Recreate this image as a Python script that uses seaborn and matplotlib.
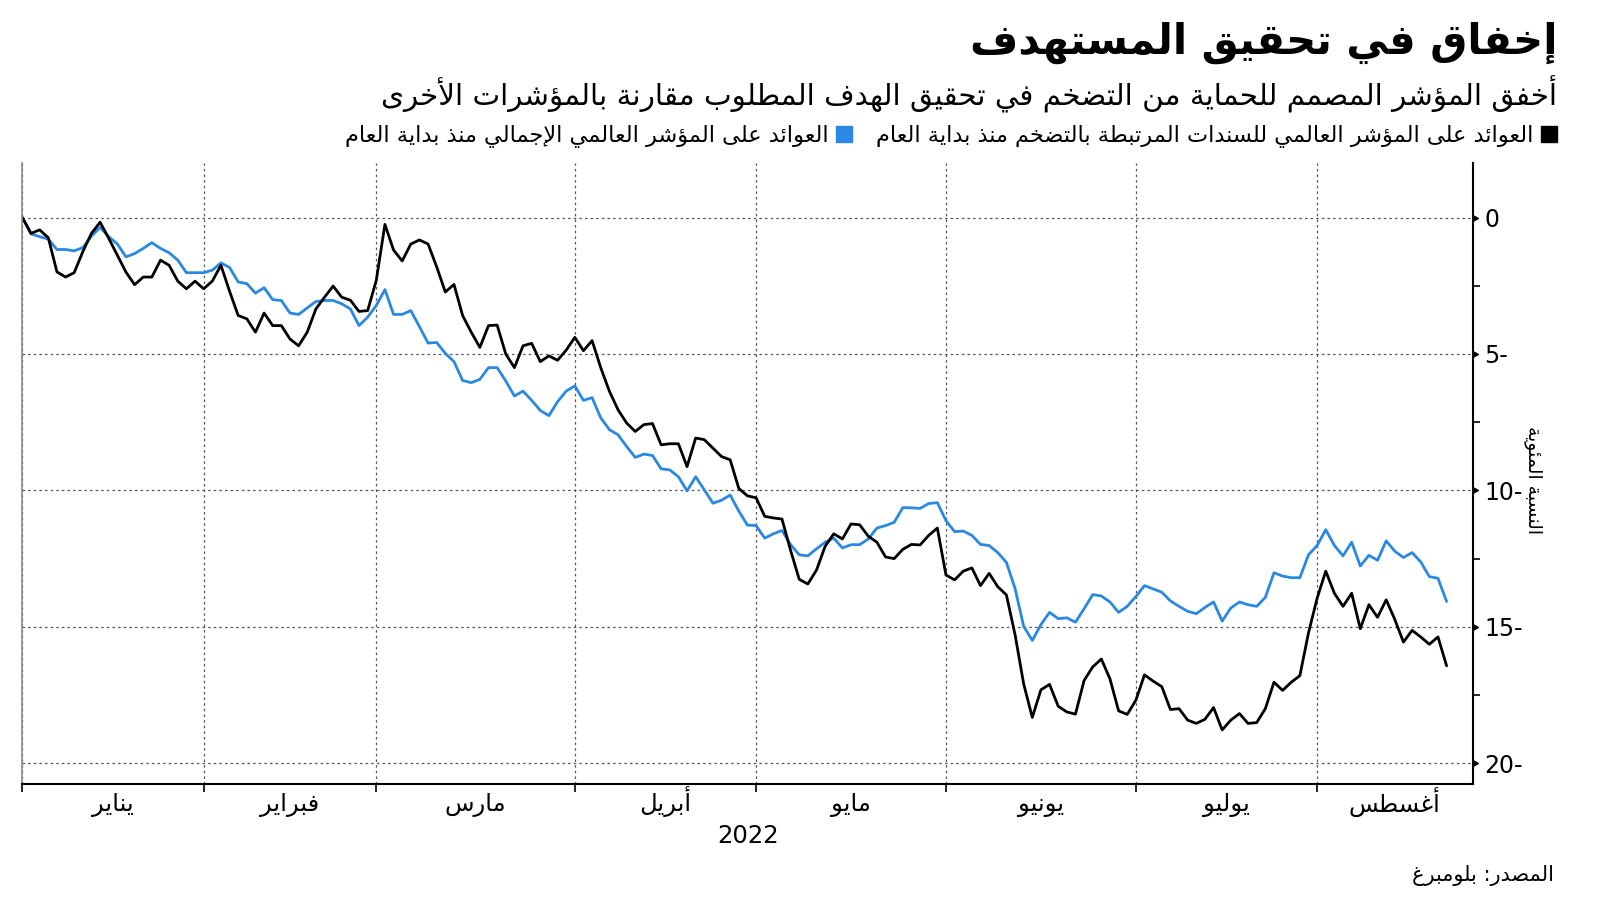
import numpy as np
import pandas as pd
import matplotlib
matplotlib.use("Agg")
import matplotlib.pyplot as plt
from matplotlib.lines import Line2D
import seaborn as sns

# ---------------- data ----------------
title_txt = "إخفاق في تحقيق المستهدف"
subtitle_txt = "أخفق المؤشر المصمم للحماية من التضخم في تحقيق الهدف المطلوب مقارنة بالمؤشرات الأخرى"
series_linked = "العوائد على المؤشر العالمي للسندات المرتبطة بالتضخم منذ بداية العام"
series_agg = "العوائد على المؤشر العالمي الإجمالي منذ بداية العام"
source_txt = "المصدر: بلومبرغ"
ylabel_txt = "النسبة المئوية"
year_txt = "2022"
months = ["يناير", "فبراير", "مارس", "أبريل", "مايو", "يونيو", "يوليو", "أغسطس"]
month_start_idx = [0, 21, 41, 64, 85, 107, 129, 150]   # business-day index of first trading day
ytick_vals = [0, -5, -10, -15, -20]
ytick_labels = ["0", "5-", "10-", "15-", "20-"]

linked = [0, -0.58, -0.45, -0.74, -1.99, -2.18, -2.02, -1.25, -0.58, -0.17,
          -0.76, -1.38, -2.0, -2.46, -2.18, -2.18, -1.56, -1.75, -2.33, -2.61,
          -2.33, -2.61, -2.33, -1.75, -2.7, -3.59, -3.71, -4.2, -3.5, -3.96,
          -3.96, -4.45, -4.7, -4.2, -3.35, -2.92, -2.51, -2.92, -3.03, -3.44,
          -3.41, -2.3, -0.25, -1.19, -1.59, -0.97, -0.82, -0.97, -1.81, -2.73,
          -2.45, -3.59, -4.2, -4.76, -3.96, -3.94, -5.0, -5.5, -4.7, -4.61,
          -5.28, -5.07, -5.23, -4.86, -4.39, -4.88, -4.51, -5.5, -6.36, -7.04,
          -7.53, -7.84, -7.59, -7.55, -8.33, -8.29, -8.29, -9.13, -8.08, -8.14,
          -8.45, -8.76, -8.88, -9.93, -10.2, -10.27, -10.95, -11.01, -11.05, -12.2,
          -13.26, -13.43, -12.92, -12.05, -11.59, -11.78, -11.23, -11.26, -11.68, -11.9,
          -12.44, -12.5, -12.16, -11.98, -12.0, -11.65, -11.38, -13.1, -13.28, -12.96,
          -12.84, -13.49, -13.04, -13.53, -13.83, -15.28, -17.09, -18.32, -17.31, -17.11,
          -17.91, -18.12, -18.2, -16.97, -16.47, -16.18, -16.91, -18.08, -18.21, -17.69,
          -16.76, -16.99, -17.19, -18.03, -18.0, -18.42, -18.54, -18.39, -17.96, -18.78,
          -18.42, -18.18, -18.54, -18.51, -18.0, -17.03, -17.33, -17.03, -16.79, -15.22,
          -13.95, -12.96, -13.77, -14.25, -13.77, -15.07, -14.19, -14.65, -14.01, -14.73,
          -15.56, -15.13, -15.37, -15.64, -15.37, -16.43]

aggregate = [0, -0.6, -0.7, -0.79, -1.17, -1.17, -1.22, -1.1, -0.68, -0.36,
             -0.7, -0.97, -1.44, -1.32, -1.13, -0.92, -1.13, -1.29, -1.56, -2.02,
             -2.02, -2.02, -1.93, -1.66, -1.83, -2.36, -2.42, -2.77, -2.57, -3.01,
             -3.04, -3.5, -3.55, -3.31, -3.08, -3.04, -3.04, -3.16, -3.35, -3.96,
             -3.65, -3.22, -2.64, -3.55, -3.55, -3.41, -4.0, -4.6, -4.58, -4.98,
             -5.28, -5.97, -6.05, -5.93, -5.5, -5.5, -5.99, -6.54, -6.36, -6.7,
             -7.07, -7.26, -6.75, -6.36, -6.17, -6.7, -6.6, -7.34, -7.77, -7.96,
             -8.39, -8.79, -8.67, -8.72, -9.21, -9.25, -9.5, -10.02, -9.5, -9.98,
             -10.47, -10.36, -10.17, -10.76, -11.27, -11.29, -11.75, -11.59, -11.47, -11.99,
             -12.36, -12.4, -12.14, -11.9, -11.75, -12.11, -11.99, -11.99, -11.78, -11.38,
             -11.29, -11.17, -10.63, -10.64, -10.66, -10.48, -10.45, -11.11, -11.51, -11.49,
             -11.65, -11.98, -12.02, -12.28, -12.64, -13.59, -14.98, -15.5, -14.92, -14.47,
             -14.7, -14.67, -14.83, -14.34, -13.82, -13.87, -14.09, -14.47, -14.25, -13.89,
             -13.49, -13.61, -13.73, -14.05, -14.25, -14.43, -14.52, -14.29, -14.09, -14.79,
             -14.31, -14.09, -14.19, -14.25, -13.92, -13.02, -13.14, -13.2, -13.2, -12.36,
             -12.02, -11.44, -12.02, -12.4, -11.9, -12.77, -12.38, -12.56, -11.85, -12.23,
             -12.46, -12.28, -12.62, -13.16, -13.22, -14.07]

# ---------------- minimal Arabic shaping (presentation forms + RTL) ----------------
_DUAL = {'ئ': 0xFE89, 'ب': 0xFE8F, 'ت': 0xFE95, 'ث': 0xFE99, 'ج': 0xFE9D, 'ح': 0xFEA1,
         'خ': 0xFEA5, 'س': 0xFEB1, 'ش': 0xFEB5, 'ص': 0xFEB9, 'ض': 0xFEBD, 'ط': 0xFEC1,
         'ظ': 0xFEC5, 'ع': 0xFEC9, 'غ': 0xFECD, 'ف': 0xFED1, 'ق': 0xFED5, 'ك': 0xFED9,
         'ل': 0xFEDD, 'م': 0xFEE1, 'ن': 0xFEE5, 'ه': 0xFEE9, 'ي': 0xFEF1}
_RIGHT = {'آ': 0xFE81, 'أ': 0xFE83, 'ؤ': 0xFE85, 'إ': 0xFE87, 'ا': 0xFE8D, 'ة': 0xFE93,
          'د': 0xFEA9, 'ذ': 0xFEAB, 'ر': 0xFEAD, 'ز': 0xFEAF, 'و': 0xFEED, 'ى': 0xFEEF}
_LAMALEF = {'آ': 0xFEF5, 'أ': 0xFEF7, 'إ': 0xFEF9, 'ا': 0xFEFB}


def ar(text):
    toks = []
    i = 0
    while i < len(text):
        c = text[i]
        if c == 'ل' and i + 1 < len(text) and text[i + 1] in _LAMALEF:
            toks.append(('LA', _LAMALEF[text[i + 1]]))
            i += 2
            continue
        if c in _DUAL:
            toks.append(('D', _DUAL[c]))
        elif c in _RIGHT:
            toks.append(('R', _RIGHT[c]))
        elif c == 'ء':
            toks.append(('N', 0xFE80))
        else:
            toks.append(('X', c))
        i += 1
    out = []
    for k, (t, v) in enumerate(toks):
        if t == 'X':
            out.append(v)
            continue
        if t == 'N':
            out.append(chr(v))
            continue
        jp = k > 0 and toks[k - 1][0] == 'D'
        jn = t == 'D' and k + 1 < len(toks) and toks[k + 1][0] in ('D', 'R', 'LA')
        if t == 'D':
            off = 3 if (jp and jn) else 1 if jp else 2 if jn else 0
        else:
            off = 1 if jp else 0
        out.append(chr(v + off))
    return ''.join(out)[::-1]


# ---------------- plot ----------------
sns.set_style("white")
plt.rcParams['font.family'] = ['DejaVu Sans']
plt.rcParams['text.color'] = 'black'
plt.rcParams['xtick.color'] = 'black'
plt.rcParams['ytick.color'] = 'black'
plt.rcParams['axes.labelcolor'] = 'black'

BLUE = "#2a88e2"
BLACK = "#000000"

n = len(linked)
df = pd.DataFrame({
    "idx": list(range(n)) * 2,
    "value": aggregate + linked,
    "series": ["agg"] * n + ["linked"] * n,
})

fig = plt.figure(figsize=(16, 9.01), dpi=100)
ax = fig.add_axes([22.4 / 1600, 1 - 783.7 / 901, (1472.5 - 22.4) / 1600, (783.7 - 163) / 901])

sns.lineplot(data=df, x="idx", y="value", hue="series", hue_order=["agg", "linked"],
             palette={"agg": BLUE, "linked": BLACK}, linewidth=2.0, legend=False, ax=ax)

ax.set_xlim(0, 168.0)
ax.set_ylim(-20.75, 2.0)
ax.set_xlabel("")
ax.set_ylabel("")

# x axis: month boundaries as major ticks, labels centred between boundaries
bounds = month_start_idx + [ax.get_xlim()[1]]
mids = [(bounds[k] + bounds[k + 1]) / 2 for k in range(len(month_start_idx))]
ax.set_xticks(month_start_idx)
ax.set_xticklabels([])
ax.set_xticks(mids, minor=True)
ax.set_xticklabels([ar(m) for m in months], minor=True, fontsize=17.5)
for lab in ax.get_xticklabels(minor=True):
    lab.set_verticalalignment('baseline')
ax.tick_params(axis='x', which='major', direction='out', length=6, width=1.2, color='black', bottom=True)
ax.tick_params(axis='x', which='minor', length=0, pad=20, bottom=True)

# y axis on right
ax.yaxis.tick_right()
ax.set_yticks(ytick_vals)
ax.set_yticklabels(ytick_labels, fontsize=17)
ax.set_yticks([-2.5, -7.5, -12.5, -17.5], minor=True)
ax.tick_params(axis='y', which='major', right=True, left=False, length=7, width=1, pad=1.5, color='black')
ax.tick_params(axis='y', which='minor', right=True, left=False, length=5, width=1.2, color='black')
tri = [(0, -0.55), (1, 0), (0, 0.55), (0, -0.55)]
for t in ax.yaxis.get_major_ticks():
    t.tick2line.set_marker(tri)
    t.tick2line.set_markerfacecolor('black')
    t.tick2line.set_markeredgecolor('black')
    t.tick2line.set_markersize(7)

# grid
ax.grid(True, which='major', axis='both', color='#555555', linestyle=(0, (2, 2.5)), linewidth=0.9)

# spines
ax.spines['top'].set_visible(False)
ax.spines['left'].set_color('#8a8a8a')
ax.spines['left'].set_linewidth(1.2)
for s in ('bottom', 'right'):
    ax.spines[s].set_color('black')
    ax.spines[s].set_linewidth(1.5)

# texts
fig.text(1557 / 1600, 1 - 43 / 901, ar(title_txt), ha='right', va='center', fontsize=30,
         fontweight='bold', color='black')
fig.text(1557 / 1600, 1 - 94 / 901, ar(subtitle_txt), ha='right', va='center', fontsize=21.2,
         color='black')
fig.text(748 / 1600, 1 - 836 / 901, year_txt, ha='center', va='center', fontsize=17.5)
fig.text(1554 / 1600, 1 - 875 / 901, ar(source_txt), ha='right', va='center', fontsize=15)
fig.text(1533 / 1600, 1 - 480 / 901, ar(ylabel_txt), ha='center', va='center', fontsize=13.5,
         rotation=270)

# legend (RTL: marker right of text, first series rightmost)
handles = [Line2D([], [], marker='s', linestyle='', color=BLUE, markersize=11),
           Line2D([], [], marker='s', linestyle='', color=BLACK, markersize=11)]
labels = [ar(series_agg), ar(series_linked)]
fig.legend(handles, labels, loc='center right', bbox_to_anchor=(1558 / 1600, 1 - 136 / 901),
           bbox_transform=fig.transFigure, ncol=2, markerfirst=False, frameon=False,
           fontsize=16.2, handletextpad=0.3, columnspacing=1.0, handlelength=0.8, borderpad=0,
           borderaxespad=0)

fig.savefig("out.png", dpi=100)
